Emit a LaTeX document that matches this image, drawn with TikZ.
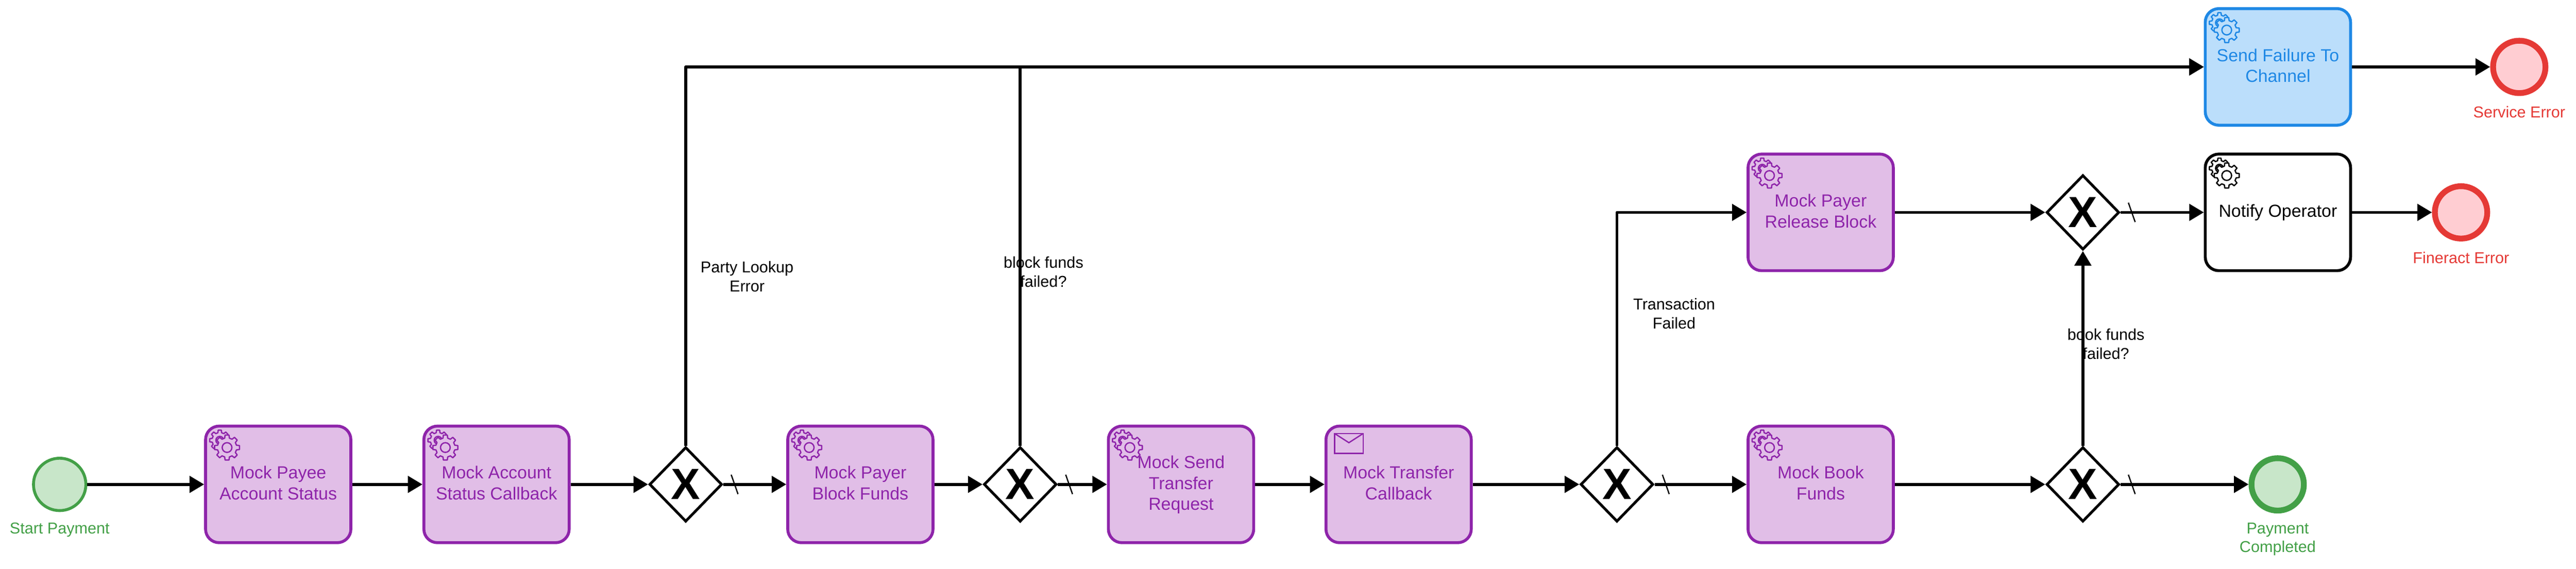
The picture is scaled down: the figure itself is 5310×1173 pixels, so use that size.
\documentclass[tikz,border=0pt]{standalone}
\usepackage{fontspec}
\setmainfont{Liberation Sans}
\usetikzlibrary{arrows.meta,shapes.geometric}
\definecolor{purpleL}{HTML}{8E24AA}
\definecolor{purpleF}{HTML}{E1BEE7}
\definecolor{blueL}{HTML}{1E88E5}
\definecolor{blueF}{HTML}{BBDEFB}
\definecolor{redL}{HTML}{E53935}
\definecolor{redF}{HTML}{FFCDD2}
\definecolor{greenL}{HTML}{43A047}
\definecolor{greenF}{HTML}{C8E6C9}
\tikzset{
  taskbox/.style={draw,rectangle,rounded corners=14pt,line width=3pt,minimum width=149.75pt,minimum height=120.25pt,inner sep=0pt,align=center,text depth=3pt,font=\fontsize{18}{21.5}\selectfont},
  mocktask/.style={taskbox,draw=purpleL,fill=purpleF,text=purpleL},
  bluetask/.style={taskbox,draw=blueL,fill=blueF,text=blueL},
  blacktask/.style={taskbox,draw=black,fill=white,text=black},
  startev/.style={draw=greenL,fill=greenF,circle,line width=3pt,minimum size=54pt,inner sep=0pt},
  okend/.style={draw=greenL,fill=greenF,circle,line width=6pt,minimum size=54pt,inner sep=0pt},
  errend/.style={draw=redL,fill=redF,circle,line width=6pt,minimum size=54pt,inner sep=0pt},
  gatebox/.style={draw=black,fill=white,diamond,line width=2.75pt,minimum width=75pt,minimum height=77pt,inner sep=0pt,shape aspect=1,font=\fontsize{45}{46}\bfseries\selectfont},
  captext/.style={align=center,inner sep=0pt,font=\fontsize{16.25}{19.5}\selectfont},
  flow/.style={draw=black,line width=3pt,line join=round,-{Triangle[length=15pt,width=17pt]}},
  slashmark/.style={draw=black,line width=1.3pt},
}
\newcommand{\gearshape}[6]{%
  \draw[draw=#5,fill=#6,line width=1.35pt,line join=round,shift={(#1,#2)}]
    (76:#4) \foreach \a in {90,135,...,405} { -- (\a-14:#4) -- (\a-9:#3) -- (\a+9:#3) -- (\a+14:#4) } -- cycle;
}
\newcommand{\gearmark}[4]{%
  % #1,#2 top-left corner of the task; #3 line colour; #4 fill colour
  \begin{scope}[shift={(#1,#2)}]
    \gearshape{32}{32}{21}{16}{#3}{#4}
    \draw[draw=#3,line width=1.35pt] (32,32) circle[radius=8];
    \gearshape{47}{47}{26}{20}{#3}{#4}
    \draw[draw=#3,line width=1.35pt] (47,47) circle[radius=10];
  \end{scope}
}
\begin{document}
\begin{tikzpicture}[x=0.5pt,y=-0.5pt]
\useasboundingbox (0,0) rectangle (5310,1173);
\fill[white] (0,0) rectangle (5310,1173);

\node[startev] (start) at (123,999) {};
\node[mocktask] (t1) at (573.5,999) {Mock Payee\\Account Status};
\node[mocktask] (t2) at (1023.5,999) {Mock Account\\Status Callback};
\node[gatebox] (g1) at (1413.5,999) {X};
\node[mocktask] (t3) at (1773.5,999) {Mock Payer\\Block Funds};
\node[gatebox] (g2) at (2103,999) {X};
\node[mocktask] (t4) at (2434.5,999) {Mock Send\\Transfer\\Request};
\node[mocktask] (t5) at (2883,999) {Mock Transfer\\Callback};
\node[gatebox] (g3) at (3333,999) {X};
\node[mocktask] (t6) at (3753,999) {Mock Book\\Funds};
\node[gatebox] (g4) at (4293.5,999) {X};
\node[okend] (done) at (4695,999) {};
\node[mocktask] (rel) at (3753,438) {Mock Payer\\Release Block};
\node[gatebox] (g5) at (4293.5,438) {X};
\node[blacktask] (notify) at (4695.5,438) {Notify Operator};
\node[errend] (finerr) at (5073,438) {};
\node[bluetask] (fail) at (4695.5,138) {Send Failure To\\Channel};
\node[errend] (svcerr) at (5193,138) {};

\draw[flow] (start) -- (t1);
\draw[flow] (t1) -- (t2);
\draw[flow] (t2) -- (g1);
\draw[flow] (g1) -- (t3);
\draw[flow] (t3) -- (g2);
\draw[flow] (g2) -- (t4);
\draw[flow] (t4) -- (t5);
\draw[flow] (t5) -- (g3);
\draw[flow] (g3) -- (t6);
\draw[flow] (t6) -- (g4);
\draw[flow] (g4) -- (done);
\draw[flow] (g4.north) -- (g5.south);
\draw[flow] (g5) -- (notify);
\draw[flow] (notify) -- (finerr);
\draw[flow] (rel) -- (g5);
\draw[flow] (g3.north) |- (rel.west);
\draw[flow] (g1.north) |- (fail.west);
\draw[flow] (g2.north) |- (fail.west);
\draw[flow] (fail) -- (svcerr);

\foreach \g in {g1,g2,g3,g4,g5}
  \draw[slashmark] ([xshift=8pt,yshift=10pt]\g.east) -- ([xshift=15pt,yshift=-10pt]\g.east);

\gearmark{421}{876}{purpleL}{purpleF}
\gearmark{871}{876}{purpleL}{purpleF}
\gearmark{1621}{876}{purpleL}{purpleF}
\gearmark{2282}{876}{purpleL}{purpleF}
\gearmark{3600.5}{876}{purpleL}{purpleF}
\gearmark{3600.5}{315}{purpleL}{purpleF}
\gearmark{4543}{315}{black}{white}
\gearmark{4543}{15}{blueL}{blueF}
\draw[draw=purpleL,line width=1.35pt,line join=miter] (2751,894) rectangle (2810,935);
\draw[draw=purpleL,line width=1.35pt,line join=miter] (2751,894) -- (2780.5,913) -- (2810,894);

\node[captext,text=greenL] (capstart) at (123,1093) {Start Payment};
\node[captext,text=greenL] (capdone) at (4695,1112) {Payment\\Completed};
\node[captext,text=redL] (capsvc) at (5193,231.5) {Service Error};
\node[captext,text=redL] (capfin) at (5073,532) {Fineract Error};
\node[captext] (lparty) at (1540,570) {Party Lookup\\Error};
\node[captext] (lblock) at (2151,560.5) {block funds\\failed?};
\node[captext] (ltrans) at (3451,646.5) {Transaction\\Failed};
\node[captext] (lbook) at (4341,709.5) {book funds\\failed?};
\end{tikzpicture}
\end{document}
